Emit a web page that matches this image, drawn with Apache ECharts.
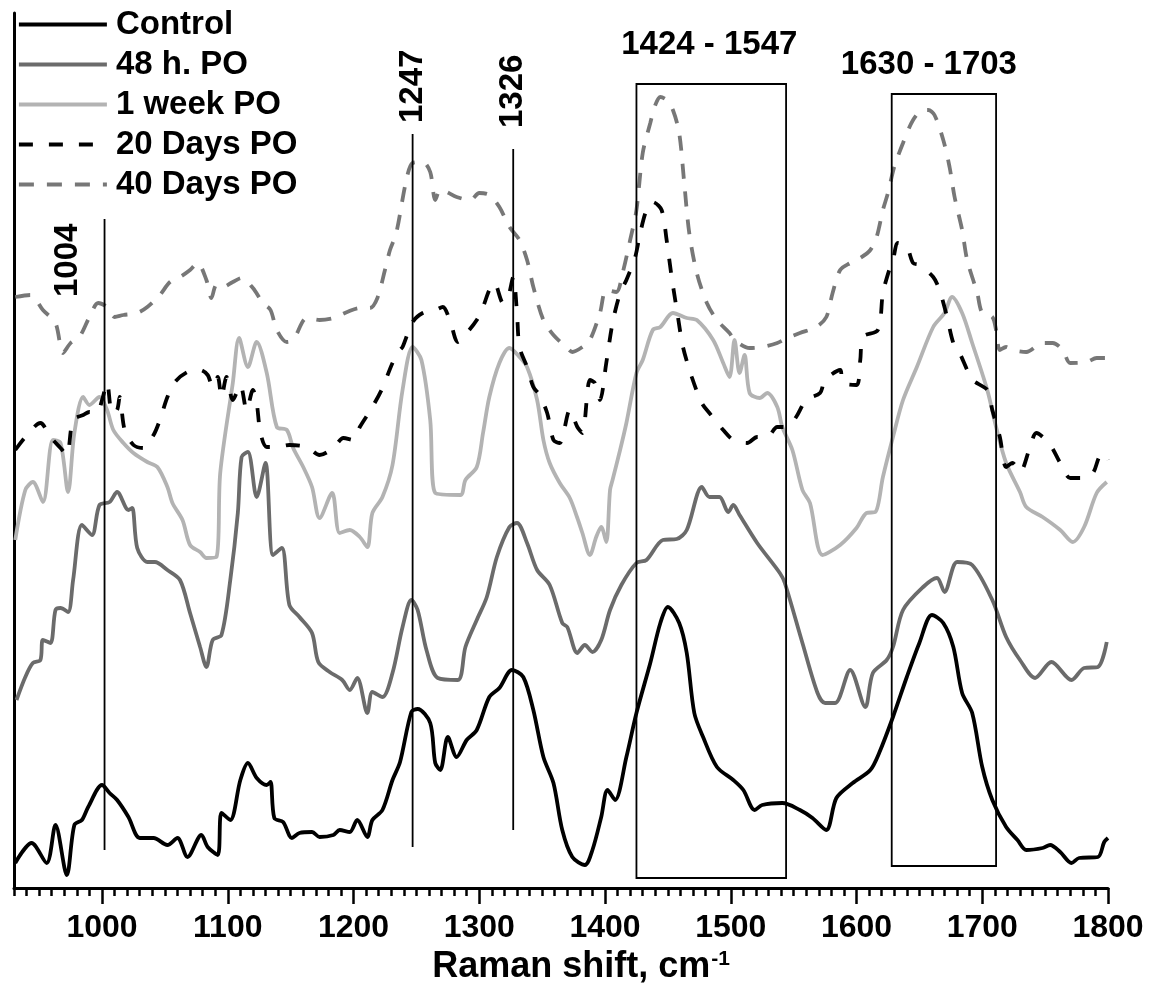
<!DOCTYPE html>
<html>
<head>
<meta charset="utf-8">
<title>Raman spectra</title>
<script src="https://cdn.jsdelivr.net/npm/echarts@6/dist/echarts.min.js"></script>
<style>
  html, body { margin: 0; padding: 0; background: #fff; }
  #chart { width: 1159px; height: 992px; }
</style>
</head>
<body>
<div id="chart"></div>
<script>
// x ticks (Raman shift, cm-1)
var tickValues = [1000, 1100, 1200, 1300, 1400, 1500, 1600, 1700, 1800];

var seriesNames = ['Control', '48 h. PO', '1 week PO', '20 Days PO', '40 Days PO'];

// spectra, [shift, intensity a.u.]
var control = [[931,25],[944,45],[956,25],[963,63],[972,13],[978,63],[984,68],[989,81],[1000,103],[1006,95],[1012,88],[1021,71],[1030,50],[1041,50],[1052,43],[1060,50],[1068,31],[1079,53],[1084,41],[1092,33],[1095,75],[1102,68],[1110,108],[1116,125],[1123,110],[1131,103],[1134,106],[1137,70],[1144,66],[1151,50],[1157,55],[1167,56],[1173,51],[1184,53],[1189,58],[1197,56],[1203,68],[1211,51],[1215,68],[1223,78],[1231,108],[1237,126],[1246,176],[1251,179],[1261,165],[1265,125],[1269,118],[1275,151],[1282,131],[1290,148],[1298,158],[1308,191],[1316,200],[1326,218],[1335,211],[1343,178],[1351,131],[1359,105],[1366,58],[1374,31],[1384,23],[1390,38],[1397,71],[1402,98],[1408,88],[1417,131],[1425,175],[1436,225],[1444,265],[1450,281],[1459,265],[1465,235],[1471,175],[1478,151],[1489,121],[1502,108],[1510,98],[1519,78],[1525,83],[1541,85],[1555,78],[1565,70],[1576,58],[1584,90],[1597,105],[1611,118],[1618,135],[1629,171],[1640,211],[1650,245],[1660,273],[1669,265],[1677,241],[1684,195],[1692,175],[1700,121],[1708,88],[1719,61],[1728,48],[1735,38],[1748,40],[1754,43],[1762,36],[1771,25],[1777,30],[1792,31],[1797,46],[1800,50]];

var h48 = [[932,188],[939,211],[945,225],[951,228],[953,248],[959,245],[963,278],[967,280],[973,276],[977,308],[984,363],[992,353],[998,383],[1006,386],[1012,396],[1021,378],[1024,380],[1028,340],[1036,326],[1042,326],[1052,318],[1062,308],[1070,275],[1078,241],[1083,221],[1088,248],[1095,253],[1102,308],[1108,375],[1111,431],[1116,436],[1123,391],[1130,425],[1136,333],[1143,340],[1149,283],[1157,271],[1167,255],[1172,226],[1181,216],[1191,208],[1197,198],[1203,210],[1211,175],[1215,196],[1223,191],[1231,215],[1239,261],[1246,288],[1251,278],[1258,238],[1267,210],[1283,208],[1289,241],[1298,268],[1306,291],[1314,331],[1324,361],[1330,365],[1338,345],[1346,318],[1356,303],[1366,265],[1370,261],[1378,235],[1384,243],[1390,236],[1397,248],[1404,278],[1413,303],[1425,325],[1433,328],[1446,348],[1457,349],[1465,358],[1477,401],[1483,391],[1491,391],[1498,376],[1502,383],[1507,373],[1521,345],[1539,315],[1543,305],[1557,245],[1569,195],[1575,185],[1583,185],[1595,218],[1607,181],[1613,215],[1624,228],[1629,241],[1637,278],[1653,301],[1664,310],[1670,296],[1680,326],[1692,323],[1708,288],[1719,251],[1730,228],[1742,210],[1755,226],[1771,208],[1781,220],[1792,221],[1799,246]];

var week1 = [[931,348],[939,398],[945,406],[953,386],[961,448],[967,445],[973,396],[978,455],[985,491],[990,483],[998,491],[1004,478],[1009,458],[1017,445],[1025,435],[1036,426],[1044,421],[1052,401],[1056,385],[1064,368],[1070,343],[1078,336],[1083,330],[1091,331],[1094,415],[1104,505],[1109,550],[1116,521],[1123,546],[1131,515],[1139,461],[1147,458],[1152,440],[1160,421],[1167,401],[1173,370],[1183,395],[1189,355],[1197,358],[1205,351],[1211,341],[1215,375],[1223,391],[1231,423],[1239,498],[1247,541],[1254,528],[1261,468],[1265,395],[1285,393],[1289,408],[1298,421],[1303,455],[1308,491],[1316,525],[1324,540],[1332,531],[1338,521],[1346,488],[1351,448],[1356,425],[1364,405],[1372,390],[1378,370],[1382,355],[1388,333],[1393,351],[1397,361],[1401,346],[1404,398],[1406,408],[1412,438],[1417,465],[1425,515],[1430,528],[1438,558],[1444,561],[1454,575],[1465,570],[1473,568],[1486,548],[1494,525],[1499,511],[1503,548],[1507,515],[1511,533],[1515,495],[1523,490],[1529,495],[1537,481],[1541,461],[1549,438],[1557,398],[1563,385],[1573,333],[1587,343],[1600,360],[1608,375],[1615,376],[1621,411],[1629,451],[1637,488],[1648,521],[1661,561],[1670,575],[1676,591],[1684,575],[1692,545],[1704,498],[1711,461],[1719,425],[1730,396],[1735,381],[1748,371],[1762,358],[1772,346],[1781,361],[1791,395],[1799,406]];

var days20 = [[931,438],[939,451],[951,465],[959,451],[967,440],[972,433],[977,468],[985,473],[990,476],[996,475],[1000,488],[1004,505],[1008,475],[1012,478],[1014,491],[1018,458],[1025,443],[1033,440],[1041,453],[1046,468],[1052,491],[1058,506],[1068,516],[1078,518],[1084,513],[1088,501],[1092,511],[1095,491],[1099,511],[1104,488],[1110,503],[1115,478],[1120,498],[1123,485],[1126,455],[1131,441],[1139,441],[1149,443],[1163,441],[1173,433],[1184,440],[1192,450],[1200,448],[1205,461],[1215,481],[1223,500],[1231,525],[1237,538],[1239,541],[1247,566],[1255,575],[1265,578],[1271,581],[1277,566],[1283,546],[1290,555],[1298,568],[1303,581],[1308,598],[1312,605],[1319,585],[1323,591],[1327,611],[1330,575],[1332,541],[1338,521],[1343,501],[1348,493],[1354,475],[1359,448],[1364,445],[1372,478],[1378,461],[1382,455],[1388,508],[1392,505],[1396,488],[1401,525],[1406,565],[1412,595],[1417,608],[1424,631],[1428,655],[1433,678],[1438,686],[1445,678],[1449,648],[1453,611],[1458,571],[1462,541],[1469,511],[1477,485],[1483,475],[1494,458],[1502,448],[1513,445],[1521,451],[1529,451],[1537,461],[1545,461],[1552,471],[1560,488],[1571,495],[1575,508],[1587,518],[1589,505],[1600,503],[1603,528],[1605,551],[1617,558],[1621,595],[1626,618],[1629,628],[1633,645],[1640,641],[1645,625],[1650,623],[1661,611],[1666,598],[1672,571],[1677,545],[1682,535],[1688,518],[1692,508],[1704,498],[1708,478],[1714,451],[1719,421],[1724,425],[1730,416],[1738,441],[1743,455],[1754,443],[1762,425],[1770,410],[1780,410],[1788,415],[1793,431],[1797,435],[1800,428]];

var days40 = [[931,591],[943,593],[953,578],[963,565],[969,535],[975,545],[982,551],[990,571],[997,585],[1004,581],[1010,571],[1017,573],[1028,575],[1036,581],[1046,593],[1054,606],[1062,611],[1070,618],[1076,625],[1083,608],[1087,590],[1091,603],[1096,601],[1104,606],[1111,610],[1120,600],[1128,585],[1134,578],[1139,558],[1147,546],[1152,548],[1163,570],[1173,568],[1184,570],[1195,576],[1205,580],[1213,580],[1219,590],[1225,618],[1229,638],[1234,655],[1242,708],[1247,725],[1255,726],[1261,716],[1265,688],[1269,698],[1274,696],[1282,691],[1293,688],[1300,695],[1308,693],[1316,681],[1324,661],[1332,648],[1338,628],[1343,601],[1351,568],[1359,553],[1370,540],[1374,536],[1382,541],[1388,548],[1396,575],[1401,598],[1409,596],[1414,615],[1420,648],[1425,678],[1430,735],[1436,765],[1440,783],[1444,791],[1449,788],[1454,778],[1459,755],[1463,705],[1467,655],[1473,615],[1481,585],[1489,568],[1499,555],[1503,548],[1515,540],[1525,541],[1537,545],[1545,550],[1555,555],[1568,561],[1576,571],[1581,595],[1587,618],[1595,625],[1603,630],[1611,638],[1616,651],[1621,678],[1625,695],[1630,721],[1637,745],[1645,768],[1653,778],[1657,778],[1662,773],[1669,748],[1674,721],[1678,691],[1684,658],[1688,628],[1696,595],[1700,575],[1708,571],[1711,558],[1714,538],[1719,541],[1724,538],[1735,536],[1748,545],[1756,545],[1764,538],[1770,525],[1783,526],[1791,530],[1799,530]];

// marked peaks (vertical lines)
var peakPos = [1002, 1247, 1327];
var peakLabels = ['1004', '1247', '1326'];
var peakTop = [669, 754, 739];
var peakBottom = [38, 41, 58];

// marked bands (boxes)
var bandStart = [1425, 1628];
var bandEnd = [1544, 1711];
var bandTop = [804, 794];
var bandBottom = [10, 22];
var bandLabels = ['1424 - 1547', '1630 - 1703'];

var FONT = "'Liberation Sans', Arial, sans-serif";
var BOLD33 = 'bold 33px ' + FONT;
// label placement relative to line top / box top centre, px
var peakLabelShift = [[-37, 78], [0, -11], [0, -21]];
var bandLabelShift = [[-2, -39], [-15, -29]];

var minorTicks = [];
for (var t = 930; t <= 1800; t += 10) minorTicks.push(t);

var myChart = echarts.init(document.getElementById('chart'));

function renderPeak(params, api) {
    var i = params.dataIndex;
    var top = api.coord([api.value(0), api.value(1)]);
    var bot = api.coord([api.value(0), api.value(2)]);
    return {
        type: 'group',
        children: [
            { type: 'line', shape: { x1: top[0], y1: top[1], x2: bot[0], y2: bot[1] },
              style: { stroke: '#000', lineWidth: 1.8 } },
            { type: 'text', x: top[0] + peakLabelShift[i][0], y: top[1] + peakLabelShift[i][1],
              rotation: Math.PI / 2,
              style: { text: peakLabels[i], font: BOLD33, fill: '#000', align: 'left', verticalAlign: 'middle' } }
        ]
    };
}

function renderBand(params, api) {
    var i = params.dataIndex;
    var p0 = api.coord([api.value(0), api.value(1)]);
    var p1 = api.coord([api.value(2), api.value(3)]);
    var cx = (p0[0] + p1[0]) / 2;
    return {
        type: 'group',
        children: [
            { type: 'rect', shape: { x: p0[0], y: p0[1], width: p1[0] - p0[0], height: p1[1] - p0[1] },
              style: { fill: 'none', stroke: '#000', lineWidth: 1.8 } },
            { type: 'text', x: cx + bandLabelShift[i][0], y: p0[1] + bandLabelShift[i][1],
              style: { text: bandLabels[i], font: BOLD33, fill: '#000', align: 'center', verticalAlign: 'middle' } }
        ]
    };
}

function spectrum(name, data, color, dash) {
    return {
        name: name,
        type: 'line',
        data: data,
        symbol: 'none',
        smooth: 0.3,
        lineStyle: { color: color, width: 3.8, type: dash || 'solid' },
        itemStyle: { color: color },
        z: 3
    };
}

var option = {
    animation: false,
    backgroundColor: '#fff',
    grid: { left: 14, right: 51, top: 13, bottom: 104, outerBoundsMode: 'none' },
    legend: {
        data: seriesNames,
        orient: 'vertical',
        left: 12,
        top: 3,
        itemWidth: 88,
        itemHeight: 14,
        itemGap: 7,
        itemStyle: { opacity: 0 },
        lineStyle: { width: 3.8 },
        textStyle: { fontSize: 33, fontWeight: 'bold', fontFamily: FONT, color: '#000', padding: [0, 0, 0, 4] }
    },
    xAxis: [
        {
            type: 'value', min: 930, max: 1800,
            axisLine: { lineStyle: { color: '#000', width: 3 } },
            axisTick: { inside: false, length: 16, customValues: tickValues, lineStyle: { color: '#000', width: 2.5 } },
            axisLabel: { customValues: tickValues, margin: 24, color: '#000', fontSize: 32, fontWeight: 'bold', fontFamily: FONT,
                formatter: function (v) { return String(v); } },
            splitLine: { show: false },
            name: '{a|Raman shift, cm}{b|-1}',
            nameLocation: 'middle',
            nameGap: 60,
            nameTextStyle: {
                padding: [0, 0, 0, 40],
                rich: {
                    a: { fontSize: 36, fontWeight: 'bold', fontFamily: FONT, color: '#000' },
                    b: { fontSize: 21, fontWeight: 'bold', fontFamily: FONT, color: '#000', verticalAlign: 'top', padding: [0, 0, 16, 1] }
                }
            }
        },
        {
            type: 'value', min: 930, max: 1800, position: 'bottom',
            axisLine: { show: false },
            axisTick: { length: 8, customValues: minorTicks, lineStyle: { color: '#000', width: 2.5 } },
            axisLabel: { show: false },
            splitLine: { show: false }
        }
    ],
    yAxis: {
        type: 'value', min: 0, max: 875,
        axisLine: { show: true, lineStyle: { color: '#000', width: 3 } },
        axisTick: { show: false },
        axisLabel: { show: false },
        splitLine: { show: false }
    },
    series: [
        spectrum(seriesNames[0], control, '#000000'),
        spectrum(seriesNames[1], h48, '#6b6b6b'),
        spectrum(seriesNames[2], week1, '#b3b3b3'),
        spectrum(seriesNames[3], days20, '#000000', [14, 16]),
        spectrum(seriesNames[4], days40, '#777777', [15, 13]),
        {
            type: 'custom', name: 'peaks', silent: true, clip: false, z: 4,
            renderItem: renderPeak,
            data: peakPos.map(function (x, i) { return [x, peakTop[i], peakBottom[i]]; })
        },
        {
            type: 'custom', name: 'bands', silent: true, clip: false, z: 4,
            renderItem: renderBand,
            data: bandStart.map(function (x, i) { return [x, bandTop[i], bandEnd[i], bandBottom[i]]; })
        }
    ]
};

myChart.setOption(option);
window.addEventListener('resize', function () {
    myChart.resize();
});
</script>
</body>
</html>
